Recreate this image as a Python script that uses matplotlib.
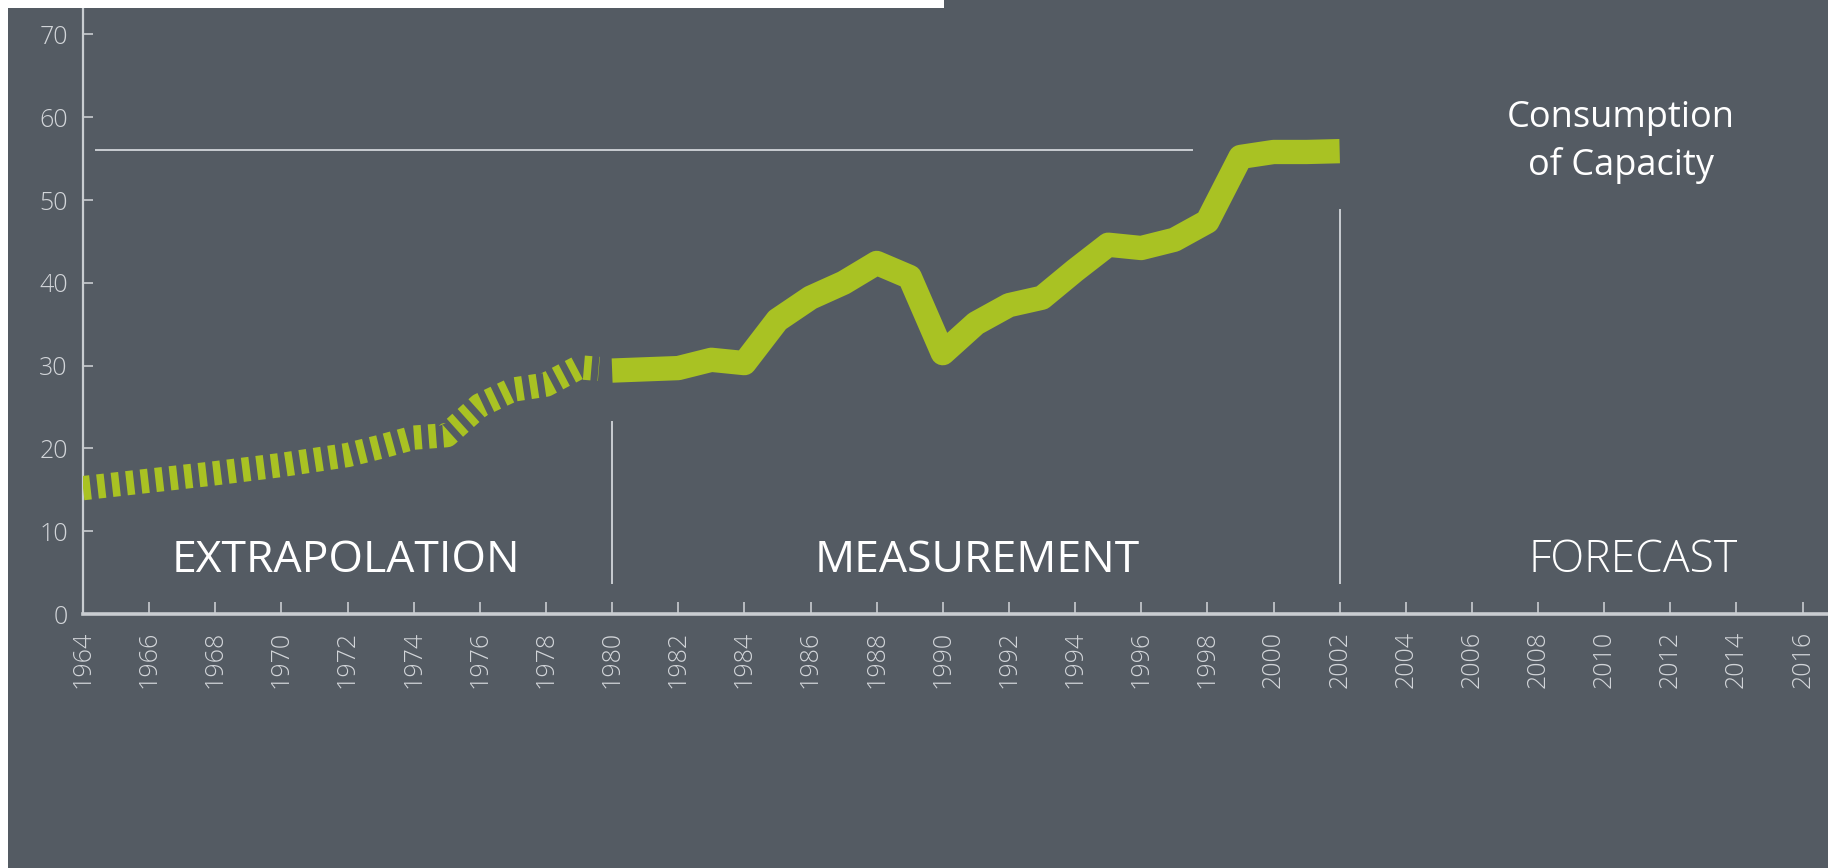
import matplotlib
matplotlib.use("Agg")
import matplotlib.pyplot as plt
from matplotlib.patches import Rectangle

# extrapolated years (dashed) and measured years (solid)
extra_years = [1964, 1966, 1968, 1970, 1972, 1973, 1974, 1975, 1976, 1977, 1978, 1979, 1979.6]
extra_vals = [15.2, 16.1, 17.0, 18.0, 19.2, 20.2, 21.3, 21.6, 25.2, 27.1, 27.7, 29.8, 29.6]

meas_years = [1980, 1982, 1983, 1984, 1985, 1986, 1987, 1988, 1989, 1990, 1991,
              1992, 1993, 1994, 1995, 1996, 1997, 1998, 1999, 2000, 2001, 2002]
meas_vals = [29.4, 29.7, 30.7, 30.3, 35.5, 38.2, 40.0, 42.4, 40.7, 31.5, 35.1,
             37.3, 38.2, 41.5, 44.6, 44.2, 45.2, 47.4, 55.2, 55.8, 55.8, 55.9]

capacity_level = 56.0
capacity_span = (1964.4, 1997.55)
dividers = [1980, 2002]
divider_tops = [23.2, 48.8]

x_ticks = list(range(1964, 2017, 2))
y_ticks = list(range(0, 71, 10))

BG = '#545b63'
GREEN = '#a9c223'
AXIS = '#c9cdd1'
TICKTXT = '#d2d5d9'

W, H = 1828, 868
fig = plt.figure(figsize=(W / 100, H / 100), dpi=100)
fig.patch.set_facecolor(BG)

ax = fig.add_axes([83 / W, 254 / H, (W - 83) / W, (H - 254) / H])
ax.set_facecolor(BG)
ax.set_xlim(1964, 1964 + (W - 83) / 33.07)
ax.set_ylim(0, 614 / 8.28)

lw = 17.5
ax.plot(extra_years, extra_vals, color=GREEN, lw=lw, linestyle=(0, (0.31, 0.29)),
        dash_capstyle='butt', solid_joinstyle='round', zorder=3)
ax.plot(meas_years, meas_vals, color=GREEN, lw=lw, solid_capstyle='butt',
        solid_joinstyle='round', zorder=3)

ax.plot(capacity_span, [capacity_level, capacity_level], color=AXIS, lw=1.4, zorder=2)
for x, top in zip(dividers, divider_tops):
    ax.plot([x, x], [3.7, top], color=AXIS, lw=1.4, zorder=2)

for s in ['top', 'right']:
    ax.spines[s].set_visible(False)
ax.spines['left'].set_color(AXIS)
ax.spines['left'].set_linewidth(1.6)
ax.spines['bottom'].set_color(AXIS)
ax.spines['bottom'].set_linewidth(2.6)

ax.set_xticks(x_ticks)
ax.set_xticklabels([str(x) for x in x_ticks], rotation=90)
ax.set_yticks(y_ticks)
ax.tick_params(axis='x', direction='in', length=9, width=1.2, color=AXIS,
               labelcolor=TICKTXT, labelsize=18, pad=12)
ax.tick_params(axis='y', direction='in', length=7, width=1.2, color=AXIS,
               labelcolor=TICKTXT, labelsize=18, pad=11)
for lab in ax.get_xticklabels() + ax.get_yticklabels():
    lab.set_family('Open Sans')
    lab.set_fontweight('light')

ax.text(1971.95, 6.4, 'EXTRAPOLATION', color='white', fontsize=32, family='Open Sans',
        ha='center', va='center')
ax.text(1991.03, 6.4, 'MEASUREMENT', color='white', fontsize=32, family='Open Sans',
        ha='center', va='center')
ax.text(2010.87, 6.4, 'FORECAST', color='white', fontsize=32, family='Open Sans',
        fontweight='light', ha='center', va='center')
ax.text(2010.5, 57.0, 'Consumption\nof Capacity', color='white', fontsize=26,
        family='Open Sans', ha='center', va='center', linespacing=1.38)

# white page margins at the left and top
fig.patches.append(Rectangle((0, 0), 8 / W, 1, transform=fig.transFigure,
                             facecolor='white', edgecolor='none', zorder=10))
fig.patches.append(Rectangle((0, 1 - 8 / H), 944 / W, 8 / H, transform=fig.transFigure,
                             facecolor='white', edgecolor='none', zorder=10))

fig.savefig('out.png', dpi=100, facecolor=BG)
